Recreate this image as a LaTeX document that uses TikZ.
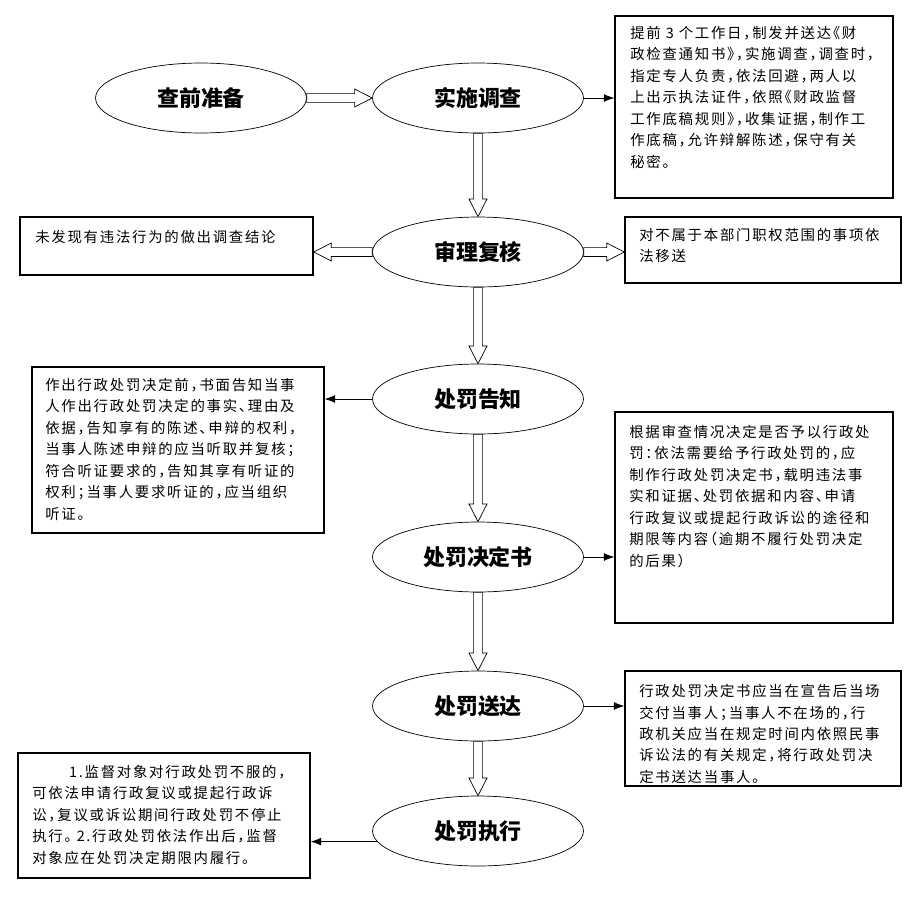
\documentclass[tikz,border=0pt]{standalone}
\usepackage{fontspec}
\usepackage{tikz}
\usetikzlibrary{shapes.geometric, arrows.meta, positioning, calc, fit}
\newfontfamily\cjk[LetterSpace=12,RawFeature=+halt]{Noto Sans CJK SC}
\newfontfamily\cjkhead{Noto Sans CJK SC}
\tikzset{
    stage/.style={ellipse, draw, thin, minimum width=4.22cm, minimum height=1.4cm, inner sep=0pt, font=\cjkhead\bfseries\fontsize{12.5}{14}\selectfont},
    note/.style={rectangle, draw, line width=0.8pt, inner sep=0pt},
    notetext/.style={anchor=north west, align=left, inner sep=0pt, font=\cjk\fontsize{8.2}{12.2}\selectfont},
    hollow/.style={draw, thin, fill=white},
    line/.style={draw, thin, -{Latex[length=6pt, width=4.5pt]}}
}
% hollow block arrow from one anchor to another
\newcommand\hollowarrow[2]{%
    \draw[hollow] let \p1=(#1), \p2=(#2),
        \n1={veclen(\x2-\x1,\y2-\y1)}, \n2={atan2(\y2-\y1,\x2-\x1)} in
        [shift={(\x1,\y1)}, rotate=\n2]
        (0pt,2.5pt) -- (\n1-10pt,2.5pt) -- (\n1-10pt,5.1pt) -- (\n1,0pt)
        -- (\n1-10pt,-5.1pt) -- (\n1-10pt,-2.5pt) -- (0pt,-2.5pt) -- cycle;}
\begin{document}
\begin{tikzpicture}[x=0.02cm, y=-0.02cm]
    \useasboundingbox (0,0) rectangle (921,924);

    % Main flow
    \node[stage] (cq) at (201,98) {查前准备};
    \node[stage] (ss) at (478,98) {实施调查};
    \node[stage] (sh) at (478,252) {审理复核};
    \node[stage] (gz) at (478,399) {处罚告知};
    \node[stage] (jd) at (478,557) {处罚决定书};
    \node[stage] (sd) at (478,706) {处罚送达};
    \node[stage] (zx) at (478,831) {处罚执行};

    % Side boxes
    \node[note, fit={(615,16) (893,198)}] (b1) {};
    \node[note, fit={(20,217) (313,275)}] (b2) {};
    \node[note, fit={(625,217) (901,283)}] (b3) {};
    \node[note, fit={(32,367) (324,533)}] (b4) {};
    \node[note, fit={(615,412) (893,623)}] (b5) {};
    \node[note, fit={(625,671) (901,786)}] (b6) {};
    \node[note, fit={(18,753) (310,878)}] (b7) {};

    \node[notetext] (t1) at (630,26) {提前 3 个工作日，制发并送达《财\\政检查通知书》，实施调查，调查时，\\指定专人负责，依法回避，两人以\\上出示执法证件，依照《财政监督\\工作底稿规则》，收集证据，制作工\\作底稿，允许辩解陈述，保守有关\\秘密。};
    \node[notetext] (t2) at (35,230) {未发现有违法行为的做出调查结论};
    \node[notetext] (t3) at (639,228) {对不属于本部门职权范围的事项依\\法移送};
    \node[notetext] (t4) at (45,378) {作出行政处罚决定前，书面告知当事\\人作出行政处罚决定的事实、理由及\\依据，告知享有的陈述、申辩的权利，\\当事人陈述申辩的应当听取并复核；\\符合听证要求的，告知其享有听证的\\权利；当事人要求听证的，应当组织\\听证。};
    \node[notetext] (t5) at (629,425) {根据审查情况决定是否予以行政处\\罚：依法需要给予行政处罚的，应\\制作行政处罚决定书，载明违法事\\实和证据、处罚依据和内容、申请\\行政复议或提起行政诉讼的途径和\\期限等内容（逾期不履行处罚决定\\的后果）};
    \node[notetext] (t6) at (639,684) {行政处罚决定书应当在宣告后当场\\交付当事人；当事人不在场的，行\\政机关应当在规定时间内依照民事\\诉讼法的有关规定，将行政处罚决\\定书送达当事人。};
    \node[notetext] (t7) at (32,765) {\hspace*{21pt}1.监督对象对行政处罚不服的，\\可依法申请行政复议或提起行政诉\\讼，复议或诉讼期间行政处罚不停止\\执行。 2.行政处罚依法作出后，监督\\对象应在处罚决定期限内履行。};

    % Hollow arrows
    \hollowarrow{cq.east}{ss.west}
    \hollowarrow{ss.south}{sh.north}
    \hollowarrow{sh.south}{gz.north}
    \hollowarrow{gz.south}{jd.north}
    \hollowarrow{jd.south}{sd.north}
    \hollowarrow{sd.south}{zx.north}
    \hollowarrow{sh.west}{sh.west -| b2.east}
    \hollowarrow{sh.east}{sh.east -| b3.west}

    % Thin arrows to the notes
    \draw[line] (ss.east) -- (ss.east -| b1.west);
    \draw[line] (gz.west) -- (gz.west -| b4.east);
    \draw[line] (jd.east) -- (jd.east -| b5.west);
    \draw[line] (sd.east) -- (sd.east -| b6.west);
    \draw[line] (zx.186) -- (zx.186 -| b7.east);
\end{tikzpicture}
\end{document}
